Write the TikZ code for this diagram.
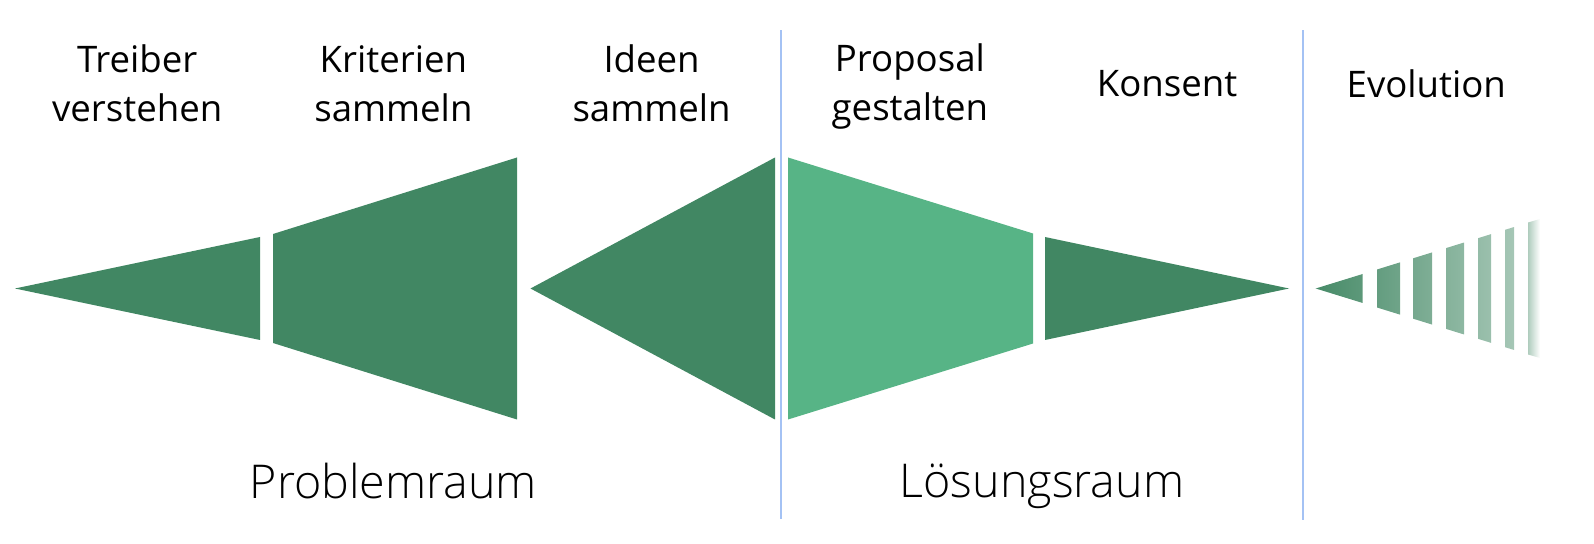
\documentclass[tikz,border=0pt]{standalone}
\definecolor{DunkelGruen}{RGB}{65,135,99}
\definecolor{HellGruen}{RGB}{87,180,134}
\definecolor{LinienBlau}{RGB}{164,194,244}
\usepackage{fontspec}
\setmainfont{Open Sans}
\newfontfamily\leicht{Open Sans Light}
\usepackage{tikz}
\usetikzlibrary{positioning, calc}

\begin{document}
\begin{tikzpicture}[x=0.5pt, y=-0.5pt,
	kopf/.style={align=center, inner sep=0pt, font=\fontsize{18.3pt}{24.4pt}\selectfont},
	raum/.style={inner sep=0pt, font=\leicht\fontsize{23.3pt}{28pt}\selectfont},
	teil/.style={fill=DunkelGruen},
	trenn/.style={draw=LinienBlau, line width=1pt}]

	\useasboundingbox (0,0) rectangle (1594,544);

	% Problemraum
	\fill[teil] (15,288.5) -- (260,237) -- (260,340) -- cycle;
	\fill[teil] (273,234) -- (517,157.5) -- (517,419.5) -- (273,343) -- cycle;
	\fill[teil] (530.5,288.5) -- (775,157.5) -- (775,419.5) -- cycle;
	% Loesungsraum
	\fill[HellGruen] (788,157.5) -- (1033,233.5) -- (1033,343.5) -- (788,419.5) -- cycle;
	\fill[teil] (1045,237) -- (1289,288.5) -- (1045,340) -- cycle;
	% Evolution, nach rechts ausblendend
	\shade[left color=DunkelGruen!97, right color=DunkelGruen!47]
		(1315.7,288.5) -- (1362.7,274) -- (1362.7,303) -- cycle
		foreach \a/\b in {1377/1400, 1413/1432, 1446/1464, 1478/1491, 1505/1514}
		{ (\a,{288.5-0.31*(\a-1315.7)}) -- (\b,{288.5-0.31*(\b-1315.7)})
		  -- (\b,{288.5+0.31*(\b-1315.7)}) -- (\a,{288.5+0.31*(\a-1315.7)}) -- cycle };
	\shade[left color=DunkelGruen!42, right color=white]
		(1528,222.5) -- (1540,219) -- (1540,358) -- (1528,354.5) -- cycle;

	\draw[trenn] (781.2,30.5) -- (781.2,518.5);
	\draw[trenn] (1303.3,30.5) -- (1303.3,520);

	\node[kopf] (treiber)  at (137.2,83.5)  {Treiber\\verstehen};
	\node[kopf] (kriterien) at (393.4,83.5) {Kriterien\\sammeln};
	\node[kopf] (ideen)    at (651.6,83.5)  {Ideen\\sammeln};
	\node[kopf] (proposal) at (909.9,86.5)  {Proposal\\gestalten};
	\node[kopf] (konsent)  at (1167,83.5)   {Konsent};
	\node[kopf] (evolution) at (1426.3,83.5) {Evolution};

	\node[raum] (problem) at (393.4,481) {Problemraum};
	\node[raum] (loesung) at (1042,486)  {Lösungsraum};
\end{tikzpicture}
\end{document}
